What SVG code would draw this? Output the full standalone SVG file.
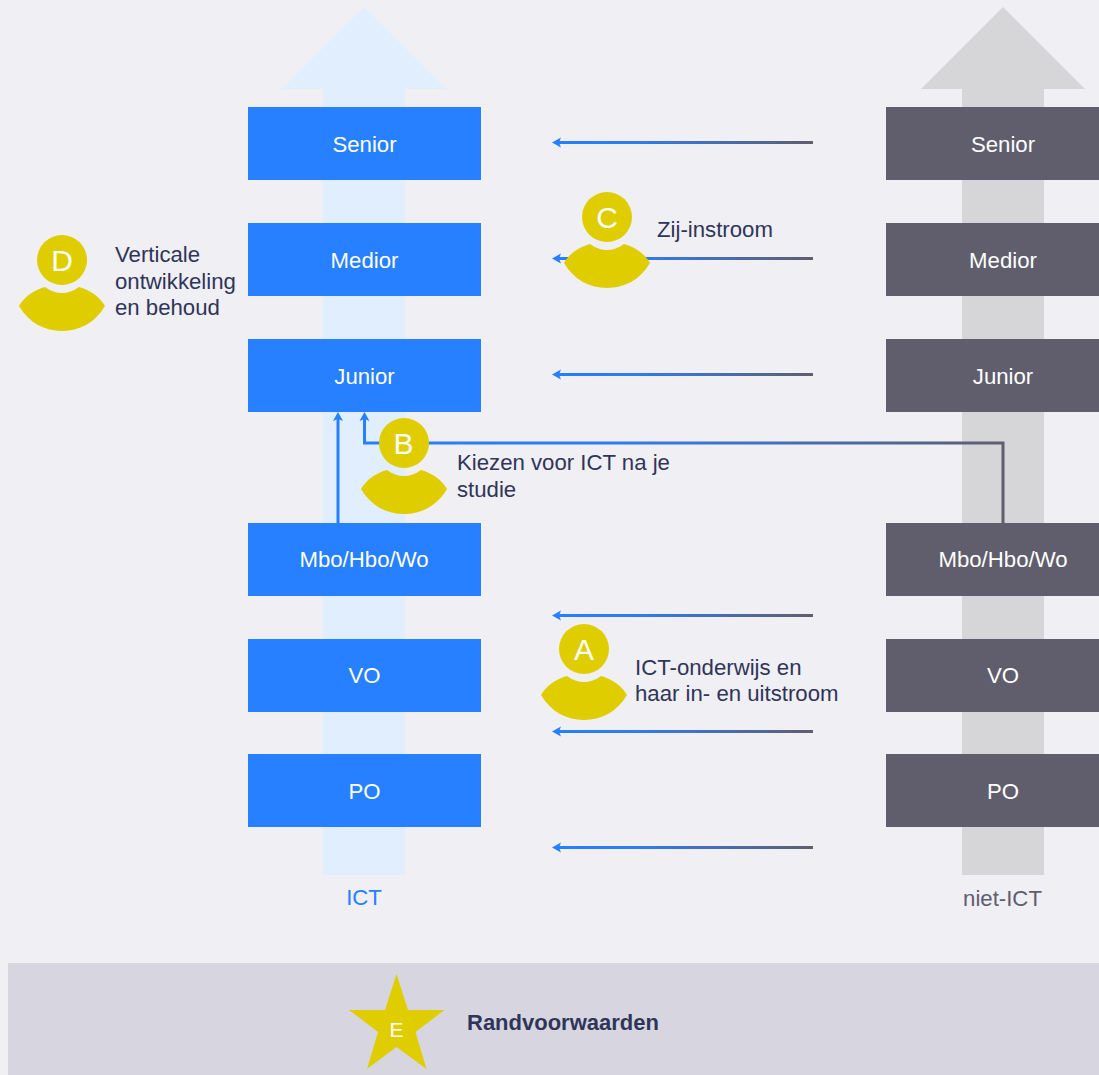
<svg xmlns="http://www.w3.org/2000/svg" xmlns:xlink="http://www.w3.org/1999/xlink" width="1099" height="1075" viewBox="0 0 1099 1075">
<style>
text{font-family:"Liberation Sans",Arial,sans-serif}
.box{font-size:22.200px;fill:#fff;text-anchor:middle}
.lbl{font-size:22.200px;fill:#2f3559}
.let{font-size:30px;fill:#fff;text-anchor:middle}
.blue{fill:#2680ff}
.grey{fill:#605e6d}
.conn{fill:none;stroke-width:3}
</style>
<defs>
<linearGradient id="g" gradientUnits="objectBoundingBox" x1="0" y1="0" x2="1" y2="0"><stop offset="0" stop-color="#2680ff"/><stop offset="0.3" stop-color="#2f7cf0"/><stop offset="1" stop-color="#605e6d"/></linearGradient>
<linearGradient id="gB" gradientUnits="userSpaceOnUse" x1="364" y1="0" x2="1003" y2="0"><stop offset="0" stop-color="#2680ff"/><stop offset="0.4" stop-color="#2f7cf0"/><stop offset="1" stop-color="#605e6d"/></linearGradient>
<g id="person"><circle r="25" fill="#e0cd00"/><path d="M-43 46C-38 37-28 30-17 27C-6 35 6 35 17 27C28 30 38 37 43 46C33 63 17 71 0 71C-17 71-33 63-43 46Z" fill="#e0cd00"/></g>
</defs>
<rect width="1099" height="1075" fill="#efeff4"/>
<path id="arrow-ict" d="M364 7L446 89H405V875H323V89H282Z" fill="#e1eefe"/>
<path id="arrow-niet" d="M1003 7L1085 89H1044V875H962V89H921Z" fill="#d6d6d8"/>
<rect id="band" x="8" y="963" width="1091" height="112" fill="#d7d6e0"/>
<g id="connectors">
<rect x="556" y="141" width="257" height="3" fill="url(#g)"/>
<rect x="556" y="257" width="257" height="3" fill="url(#g)"/>
<rect x="556" y="373" width="257" height="3" fill="url(#g)"/>
<rect x="556" y="614" width="257" height="3" fill="url(#g)"/>
<rect x="556" y="730" width="257" height="3" fill="url(#g)"/>
<rect x="556" y="846" width="257" height="3" fill="url(#g)"/>
<path class="blue" d="M552 142.500L561 137.500L559 142.500L561 147.500Z"/>
<path class="blue" d="M552 258.500L561 253.500L559 258.500L561 263.500Z"/>
<path class="blue" d="M552 374.500L561 369.500L559 374.500L561 379.500Z"/>
<path class="blue" d="M552 615.500L561 610.500L559 615.500L561 620.500Z"/>
<path class="blue" d="M552 731.500L561 726.500L559 731.500L561 736.500Z"/>
<path class="blue" d="M552 847.500L561 842.500L559 847.500L561 852.500Z"/>
<path class="conn" d="M338 523V418" stroke="#2680ff"/>
<path class="blue" d="M338 412L333 421L338 419L343 421Z"/>
<path class="conn" d="M1003 523V443H364.500V418" stroke="url(#gB)"/>
<path class="blue" d="M364.500 412L359.500 421L364.500 419L369.500 421Z"/>
</g>
<g id="node-ict-senior"><rect class="blue" x="248" y="107" width="233" height="73"/><text class="box" x="364.500" y="152">Senior</text></g>
<g id="node-ict-medior"><rect class="blue" x="248" y="223" width="233" height="73"/><text class="box" x="364.500" y="268">Medior</text></g>
<g id="node-ict-junior"><rect class="blue" x="248" y="339" width="233" height="73"/><text class="box" x="364.500" y="384">Junior</text></g>
<g id="node-ict-mbo"><rect class="blue" x="248" y="523" width="233" height="73"/><text class="box" x="364" y="567">Mbo/Hbo/Wo</text></g>
<g id="node-ict-vo"><rect class="blue" x="248" y="639" width="233" height="73"/><text class="box" x="364.500" y="683">VO</text></g>
<g id="node-ict-po"><rect class="blue" x="248" y="754" width="233" height="73"/><text class="box" x="364.500" y="799">PO</text></g>
<g id="node-niet-senior"><rect class="grey" x="886" y="107" width="213" height="73"/><text class="box" x="1003" y="152">Senior</text></g>
<g id="node-niet-medior"><rect class="grey" x="886" y="223" width="213" height="73"/><text class="box" x="1003" y="268">Medior</text></g>
<g id="node-niet-junior"><rect class="grey" x="886" y="339" width="213" height="73"/><text class="box" x="1003" y="384">Junior</text></g>
<g id="node-niet-mbo"><rect class="grey" x="886" y="523" width="213" height="73"/><text class="box" x="1003" y="567">Mbo/Hbo/Wo</text></g>
<g id="node-niet-vo"><rect class="grey" x="886" y="639" width="213" height="73"/><text class="box" x="1003" y="683">VO</text></g>
<g id="node-niet-po"><rect class="grey" x="886" y="754" width="213" height="73"/><text class="box" x="1003" y="799">PO</text></g>
<text id="label-ict" x="364" y="905" font-size="22.200" fill="#2680ff" text-anchor="middle">ICT</text>
<text id="label-niet" x="1002.500" y="906" font-size="22.200" fill="#605e6d" text-anchor="middle">niet-ICT</text>
<g id="node-a"><use xlink:href="#person" href="#person" x="584" y="649"/><text class="let" x="584" y="660">A</text><text class="lbl" x="635" y="675">ICT-onderwijs en</text><text class="lbl" x="635" y="701">haar in- en uitstroom</text></g>
<g id="node-b"><use xlink:href="#person" href="#person" x="404" y="443"/><text class="let" x="403.500" y="454">B</text><text class="lbl" x="457" y="470">Kiezen voor ICT na je</text><text class="lbl" x="457" y="497">studie</text></g>
<g id="node-c"><use xlink:href="#person" href="#person" x="607" y="217"/><text class="let" x="607" y="228">C</text><text class="lbl" x="657" y="237">Zij-instroom</text></g>
<g id="node-d"><use xlink:href="#person" href="#person" x="62" y="260"/><text class="let" x="62" y="271">D</text><text class="lbl" x="115" y="262">Verticale</text><text class="lbl" x="115" y="289">ontwikkeling</text><text class="lbl" x="115" y="315">en behoud</text></g>
<g id="node-e"><polygon points="396.500,974 408,1010 444.500,1010 415.500,1032 426.500,1069 396.500,1047 367,1069 378,1032 349,1010 385,1010" fill="#e0cd00"/><text x="396.500" y="1037" font-size="21" fill="#fff" text-anchor="middle">E</text><text x="467" y="1030" font-size="22" font-weight="700" fill="#2f3559">Randvoorwaarden</text></g>
</svg>
